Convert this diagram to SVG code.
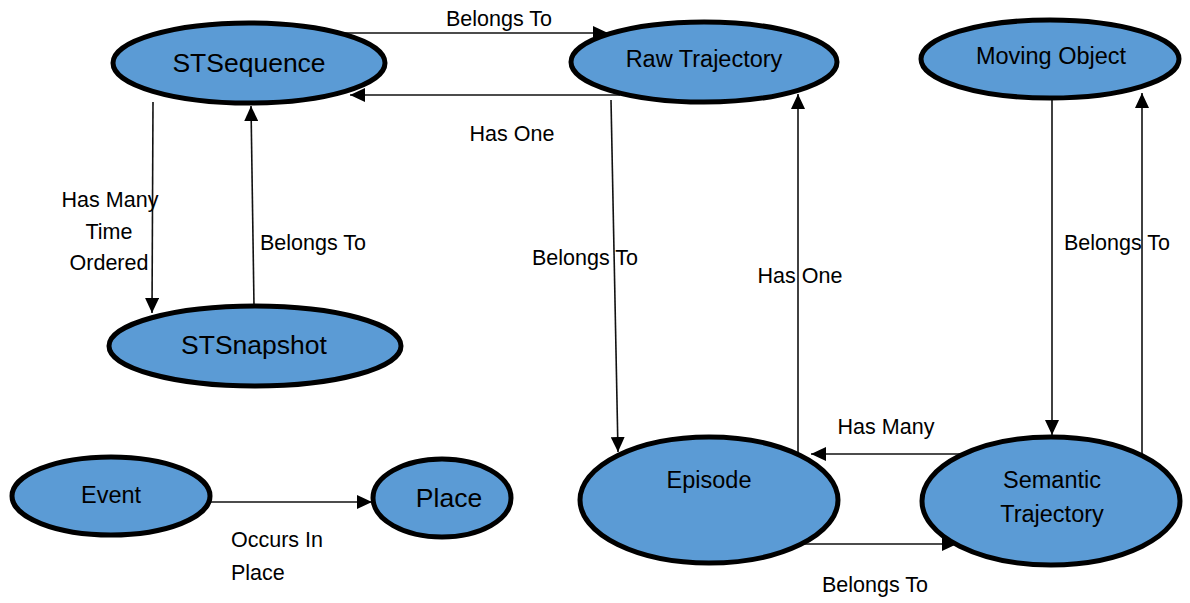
<svg xmlns="http://www.w3.org/2000/svg" width="1190" height="603" viewBox="0 0 1190 603">
  <style>
    .node ellipse { fill: #5B9BD5; stroke: #000; stroke-width: 5; }
    .node text { font-family: "Liberation Sans", Arial, sans-serif; fill: #000; text-anchor: middle; }
    .big { font-size: 26.5px; }
    .mid { font-size: 23.5px; }
    .edge { fill: none; stroke: #111; stroke-width: 1.6; marker-end: url(#arrow); }
    .label { font-family: "Liberation Sans", Arial, sans-serif; font-size: 21.5px; fill: #000; }
  </style>
  <defs>
    <marker id="arrow" markerUnits="userSpaceOnUse" markerWidth="16" markerHeight="14" refX="15" refY="7" orient="auto">
      <path d="M0,0 L15,7 L0,14 z" fill="#000"/>
    </marker>
  </defs>
  <rect width="1190" height="603" fill="#fff"/>

  <!-- relationships, drawn beneath the entities -->
  <g id="connectors">
    <path class="edge" d="M340,33 L608,33"/>
    <path class="edge" d="M620,95 L350,95"/>
    <path class="edge" d="M153,102 L152,313"/>
    <path class="edge" d="M254,306 L251,106"/>
    <path class="edge" d="M611,100 L618,452"/>
    <path class="edge" d="M798,462 L798,94"/>
    <path class="edge" d="M1052,98 L1052,435"/>
    <path class="edge" d="M1142,458 L1142,93"/>
    <path class="edge" d="M960,454 L811,454"/>
    <path class="edge" d="M800,544 L957,544"/>
    <path class="edge" d="M210,502 L372,502"/>

    <text class="label" x="499" y="26" text-anchor="middle">Belongs To</text>
    <text class="label" x="512" y="141" text-anchor="middle">Has One</text>
    <text class="label" x="110" y="207" text-anchor="middle">Has Many</text>
    <text class="label" x="109" y="239" text-anchor="middle">Time</text>
    <text class="label" x="109" y="270" text-anchor="middle">Ordered</text>
    <text class="label" x="313" y="250" text-anchor="middle">Belongs To</text>
    <text class="label" x="585" y="265" text-anchor="middle">Belongs To</text>
    <text class="label" x="800" y="283" text-anchor="middle">Has One</text>
    <text class="label" x="1117" y="250" text-anchor="middle">Belongs To</text>
    <text class="label" x="886" y="434" text-anchor="middle">Has Many</text>
    <text class="label" x="875" y="592" text-anchor="middle">Belongs To</text>
    <text class="label" x="231" y="547">Occurs In</text>
    <text class="label" x="231" y="580">Place</text>
  </g>

  <g id="stsequence" class="node">
    <ellipse cx="249" cy="63" rx="136" ry="40"/>
    <text class="big" x="249" y="72">STSequence</text>
  </g>
  <g id="raw-trajectory" class="node">
    <ellipse cx="704" cy="62" rx="133" ry="40"/>
    <text class="mid" x="704" y="67">Raw Trajectory</text>
  </g>
  <g id="moving-object" class="node">
    <ellipse cx="1050" cy="59" rx="129" ry="39"/>
    <text class="mid" x="1051" y="64">Moving Object</text>
  </g>
  <g id="stsnapshot" class="node">
    <ellipse cx="255" cy="346" rx="146" ry="40"/>
    <text class="big" x="254" y="354">STSnapshot</text>
  </g>
  <g id="event" class="node">
    <ellipse cx="111" cy="496" rx="99" ry="39"/>
    <text class="mid" x="111" y="503">Event</text>
  </g>
  <g id="place" class="node">
    <ellipse cx="442" cy="498" rx="69" ry="39"/>
    <text class="big" x="449" y="507">Place</text>
  </g>
  <g id="episode" class="node">
    <ellipse cx="709" cy="500" rx="129" ry="63"/>
    <text class="mid" x="709" y="488">Episode</text>
  </g>
  <g id="semantic-trajectory" class="node">
    <ellipse cx="1051" cy="501" rx="129" ry="64"/>
    <text class="mid" x="1052" y="488">Semantic</text>
    <text class="mid" x="1052" y="522">Trajectory</text>
  </g>
</svg>
